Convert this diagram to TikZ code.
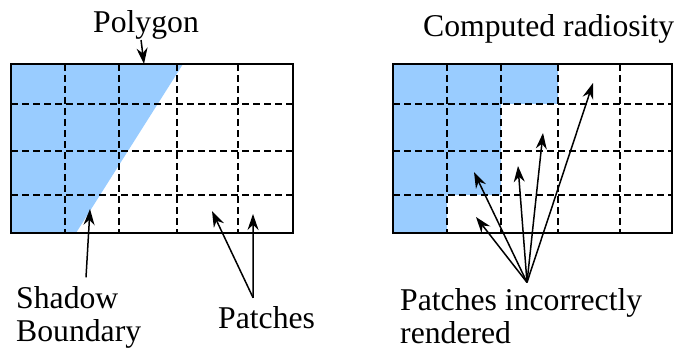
\documentclass[tikz,border=0pt]{standalone}
\usepackage{fontspec}
\setmainfont{Liberation Serif}
\newfontfamily\notefont{Liberation Serif}
\usetikzlibrary{arrows.meta}

\definecolor{shadowblue}{RGB}{153,204,255}

\tikzset{
	patchline/.style={dash pattern=on 7pt off 4pt, line width=1.9pt},
	frame/.style={line width=2pt},
	pointer/.style={-{Stealth[length=16pt,width=11pt]}, line width=1.5pt},
	note/.style={font=\notefont\fontsize{31.7}{33}\selectfont, inner sep=0pt}
}

\begin{document}
\begin{tikzpicture}[x=1pt,y=-1pt]
	\useasboundingbox (0,0) rectangle (674,350);
	
	% left grid with the polygon over it
	\fill[shadowblue] (11,64) -- (183,64) -- (76,233) -- (11,233) -- cycle;
	\foreach \x in {65,119,177,238} \draw[patchline] (\x,64) -- (\x,233);
	\foreach \y in {104,151,195} \draw[patchline] (11,\y) -- (293,\y);
	\draw[frame] (11,64) rectangle (293,233);
	
	% right grid, computed radiosity
	\fill[shadowblue] (393,64) -- (558,64) -- (558,104) -- (501,104) -- (501,195)
		-- (447,195) -- (447,233) -- (393,233) -- cycle;
	\foreach \x in {447,501,558,620} \draw[patchline] (\x,64) -- (\x,233);
	\foreach \y in {104,151,195} \draw[patchline] (393,\y) -- (672,\y);
	\draw[frame] (393,64) rectangle (672,233);
	
	\node[note, anchor=base west] (polygon) at (93,33) {Polygon};
	\node[note, anchor=base west] (radiosity) at (423,37) {Computed radiosity};
	\node[note, anchor=north west, align=left] (shadow) at (16,286.4) {Shadow\\Boundary};
	\node[note, anchor=base west] (patches) at (218,328) {Patches};
	\node[note, anchor=north west, align=left] (incorrect) at (400,288.4) {Patches incorrectly\\rendered};
	
	\coordinate (polytip) at (144,64);
	\coordinate (edgetip) at (90,209);
	\coordinate (patcha) at (212,211);
	\coordinate (patchb) at (253,214);
	\coordinate (wronga) at (476,217);
	\coordinate (wrongb) at (474,172);
	\coordinate (wrongc) at (518,166);
	\coordinate (wrongd) at (543,133);
	\coordinate (wronge) at (593,83);
	
	\path[pointer] ([xshift=-5pt]polygon.south) edge (polytip);
	\path[pointer] ([xshift=70pt,yshift=9pt]shadow.north west) edge (edgetip);
	\path[pointer] ([xshift=-13.5pt,yshift=8pt]patches.north) edge (patcha);
	\path[pointer] ([xshift=-13.5pt,yshift=8pt]patches.north) edge (patchb);
	\foreach \t in {wronga,wrongb,wrongc,wrongd,wronge}
		\path[pointer] ([xshift=127pt,yshift=6pt]incorrect.north west) edge (\t);
	
\end{tikzpicture}
\end{document}
